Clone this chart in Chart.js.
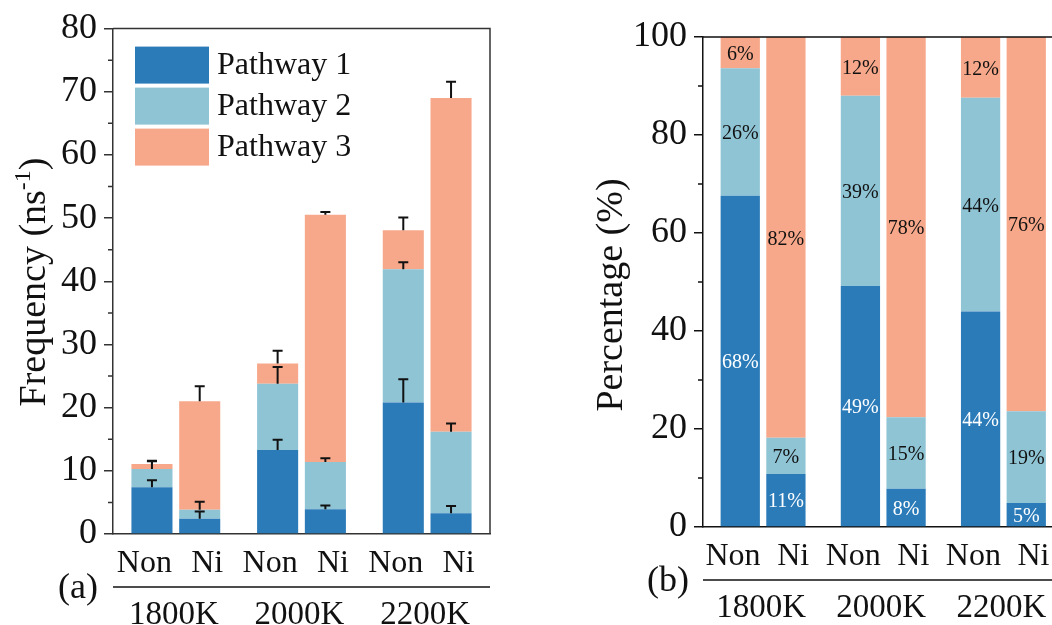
<!DOCTYPE html>
<html>
<head>
<meta charset="utf-8">
<script src="https://cdn.jsdelivr.net/npm/chart.js@4.4.0/dist/chart.umd.min.js"></script>
<style>
  html, body { margin: 0; padding: 0; background: #fff; overflow: hidden; }
  body { width: 1052px; height: 625px; position: relative; }
  .panel { position: absolute; top: 0; height: 625px; }
  #left { left: 0; width: 510px; }
  #right { left: 575px; width: 500px; }
</style>
</head>
<body>
<div class="panel" id="left"><canvas id="freqChart"></canvas></div>
<div class="panel" id="right"><canvas id="pctChart"></canvas></div>
<script>
const temps = ["1800K", "2000K", "2200K"];
const systems = ["Non", "Ni"];
const pathways = ["Pathway 1", "Pathway 2", "Pathway 3"];
const colors = ["#2b7bb9", "#8fc4d5", "#f7a88a"];

// frequency (ns^-1) per temperature
const freqP1Non = [7.4, 13.3, 20.8];
const freqP1Ni = [2.4, 3.9, 3.3];
const freqP2Non = [2.9, 10.5, 21.1];
const freqP2Ni = [1.45, 7.5, 12.9];
const freqP3Non = [0.8, 3.2, 6.2];
const freqP3Ni = [17.15, 39.15, 52.8];

// upper error bars
const errP1Non = [1.1, 1.6, 3.7];
const errP1Ni = [1.15, 0.6, 1.15];
const errP2Non = [1.3, 2.65, 1.1];
const errP2Ni = [1.25, 0.6, 1.3];
const errP3Non = [0.4, 2.0, 2.0];
const errP3Ni = [2.4, 0.4, 2.6];

// share of each pathway (%)
const pctP1Non = [67.6, 49.2, 44.0];
const pctP1Ni = [10.8, 7.8, 4.9];
const pctP2Non = [26.0, 38.8, 43.6];
const pctP2Ni = [7.4, 14.6, 18.7];
const pctP3Non = [6.4, 12.0, 12.4];
const pctP3Ni = [81.8, 77.6, 76.4];

const freqTicks = [0, 10, 20, 30, 40, 50, 60, 70, 80];
const pctTicks = [0, 20, 40, 60, 80, 100];

const FONT = "'Liberation Serif', 'Times New Roman', serif";
const INK = "#111";

function buildSets(non, ni, errNon, errNi) {
  const sets = [];
  pathways.forEach((name, k) => {
    sets.push({ label: name, data: non[k], backgroundColor: colors[k], stack: "Non",
                errors: errNon ? errNon[k] : null, labelColor: k === 0 ? "#fff" : INK });
    sets.push({ label: name, data: ni[k], backgroundColor: colors[k], stack: "Ni",
                errors: errNi ? errNi[k] : null, labelColor: k === 0 ? "#fff" : INK });
  });
  return sets;
}

// extra drawing: frame, minor ticks, error bars, labels, legend, axis title
const panelDecor = {
  id: "panelDecor",
  afterDatasetsDraw(chart, args, o) {
    const { ctx, scales: { y } } = chart;
    ctx.save();
    if (o.errorBars) {
      ctx.strokeStyle = INK;
      ctx.lineWidth = 2;
      chart.data.datasets.forEach((ds, i) => {
        if (!ds.errors) return;
        chart.getDatasetMeta(i).data.forEach((bar, j) => {
          const len = y.getPixelForValue(0) - y.getPixelForValue(ds.errors[j]);
          const top = bar.y - len;
          ctx.beginPath();
          ctx.moveTo(bar.x, bar.y);
          ctx.lineTo(bar.x, top);
          ctx.moveTo(bar.x - 5, top);
          ctx.lineTo(bar.x + 5, top);
          ctx.stroke();
        });
      });
    }
    if (o.valueLabels) {
      ctx.font = "20px " + FONT;
      ctx.textAlign = "center";
      ctx.textBaseline = "middle";
      chart.data.datasets.forEach((ds, i) => {
        chart.getDatasetMeta(i).data.forEach((bar, j) => {
          ctx.fillStyle = ds.labelColor;
          ctx.fillText(Math.round(ds.data[j]) + "%", bar.x, (bar.y + bar.base) / 2 + 2);
        });
      });
    }
    ctx.restore();
  },
  afterDraw(chart, args, o) {
    const { ctx, chartArea: a, scales: { x, y } } = chart;
    ctx.save();
    ctx.strokeStyle = o.axisColor;
    ctx.lineWidth = 1.5;

    // top and right frame lines
    ctx.beginPath();
    ctx.moveTo(a.left, a.top);
    ctx.lineTo(a.right, a.top);
    ctx.lineTo(a.right, a.bottom);
    ctx.stroke();

    // minor ticks
    ctx.beginPath();
    for (let v = y.min + o.minorStep; v < y.max; v += 2 * o.minorStep) {
      const py = y.getPixelForValue(v);
      ctx.moveTo(a.left - 5, py);
      ctx.lineTo(a.left, py);
    }
    ctx.stroke();

    // Non / Ni labels spread evenly over the axis, a rule, then the temperatures
    ctx.fillStyle = INK;
    ctx.font = "32px " + FONT;
    ctx.textAlign = "center";
    ctx.textBaseline = "middle";
    const half = (x.getPixelForValue(1) - x.getPixelForValue(0)) / 4;
    temps.forEach((t, i) => {
      const cx = x.getPixelForValue(i);
      ctx.fillText(systems[0], cx - half, a.bottom + 30);
      ctx.fillText(systems[1], cx + half, a.bottom + 30);
    });
    ctx.font = "33px " + FONT;
    temps.forEach((t, i) => ctx.fillText(t, x.getPixelForValue(i) - 2, a.bottom + 81));
    ctx.strokeStyle = INK;
    ctx.beginPath();
    ctx.moveTo(a.left, a.bottom + 53);
    ctx.lineTo(a.right, a.bottom + 53);
    ctx.stroke();

    ctx.font = "36px " + FONT;
    ctx.fillText(o.panel, a.left - 35, a.bottom + 55);

    // y-axis title with optional superscript
    ctx.translate(o.titleX, o.titleY);
    ctx.rotate(-Math.PI / 2);
    ctx.textAlign = "left";
    const big = "38px " + FONT, small = "24px " + FONT;
    ctx.font = big;
    const w1 = ctx.measureText(o.title[0]).width;
    const w3 = ctx.measureText(o.title[2]).width;
    ctx.font = small;
    const w2 = o.title[1] ? ctx.measureText(o.title[1]).width : 0;
    let x0 = -(w1 + w2 + w3) / 2;
    ctx.font = big;
    ctx.fillText(o.title[0], x0, 0);
    x0 += w1;
    if (o.title[1]) {
      ctx.font = small;
      ctx.fillText(o.title[1], x0, -11);
      x0 += w2;
    }
    ctx.font = big;
    ctx.fillText(o.title[2], x0, 0);
    ctx.restore();

    // legend inside the plot
    if (o.legend) {
      ctx.save();
      ctx.font = "32px " + FONT;
      ctx.textBaseline = "middle";
      pathways.forEach((name, k) => {
        const bx = a.left + 22, by = a.top + 18 + k * 41;
        ctx.fillStyle = colors[k];
        ctx.fillRect(bx, by, 74, 37);
        ctx.fillStyle = INK;
        ctx.fillText(name, bx + 82, by + 19);
      });
      ctx.restore();
    }
  }
};

function makeChart(id, sets, cfg) {
  return new Chart(document.getElementById(id), {
    type: "bar",
    data: { labels: temps, datasets: sets },
    plugins: [panelDecor],
    options: {
      responsive: true,
      maintainAspectRatio: false,
      animation: false,
      events: [],
      layout: { padding: { top: cfg.top, right: cfg.right, bottom: 0, left: 0 } },
      datasets: { bar: { categoryPercentage: 0.76, barPercentage: 0.86 } },
      plugins: {
        legend: { display: false },
        tooltip: { enabled: false },
        panelDecor: cfg.decor
      },
      scales: {
        x: {
          stacked: true,
          grid: { display: true, drawOnChartArea: false, drawTicks: false },
          border: { display: true, color: cfg.decor.axisColor, width: 1.5 },
          ticks: { display: false },
          afterFit: s => { s.height = cfg.xHeight; }
        },
        y: {
          stacked: true,
          min: cfg.ticks[0],
          max: cfg.ticks[cfg.ticks.length - 1],
          afterBuildTicks: s => { s.ticks = cfg.ticks.map(v => ({ value: v })); },
          grid: { drawOnChartArea: false, drawTicks: true, tickLength: 9,
                  color: cfg.decor.axisColor, lineWidth: 1.5 },
          border: { color: cfg.decor.axisColor, width: 1.5 },
          ticks: { color: INK, font: { family: FONT, size: 36 }, padding: 7 },
          afterFit: s => { s.width = cfg.yWidth; }
        }
      }
    }
  });
}

makeChart("freqChart",
  buildSets([freqP1Non, freqP2Non, freqP3Non], [freqP1Ni, freqP2Ni, freqP3Ni],
            [errP1Non, errP2Non, errP3Non], [errP1Ni, errP2Ni, errP3Ni]),
  {
    top: 28, right: 20, xHeight: 91, yWidth: 113, ticks: freqTicks,
    decor: { axisColor: "#333", minorStep: 5, errorBars: true, legend: true, panel: "(a)",
             title: ["Frequency (ns", "-1", ")"], titleX: 35, titleY: 282 }
  });

makeChart("pctChart",
  buildSets([pctP1Non, pctP2Non, pctP3Non], [pctP1Ni, pctP2Ni, pctP3Ni]),
  {
    top: 37, right: 11.5, xHeight: 98, yWidth: 128, ticks: pctTicks,
    decor: { axisColor: INK, minorStep: 10, valueLabels: true, panel: "(b)",
             title: ["Percentage (%)", "", ""], titleX: 37, titleY: 295 }
  });
</script>
</body>
</html>
